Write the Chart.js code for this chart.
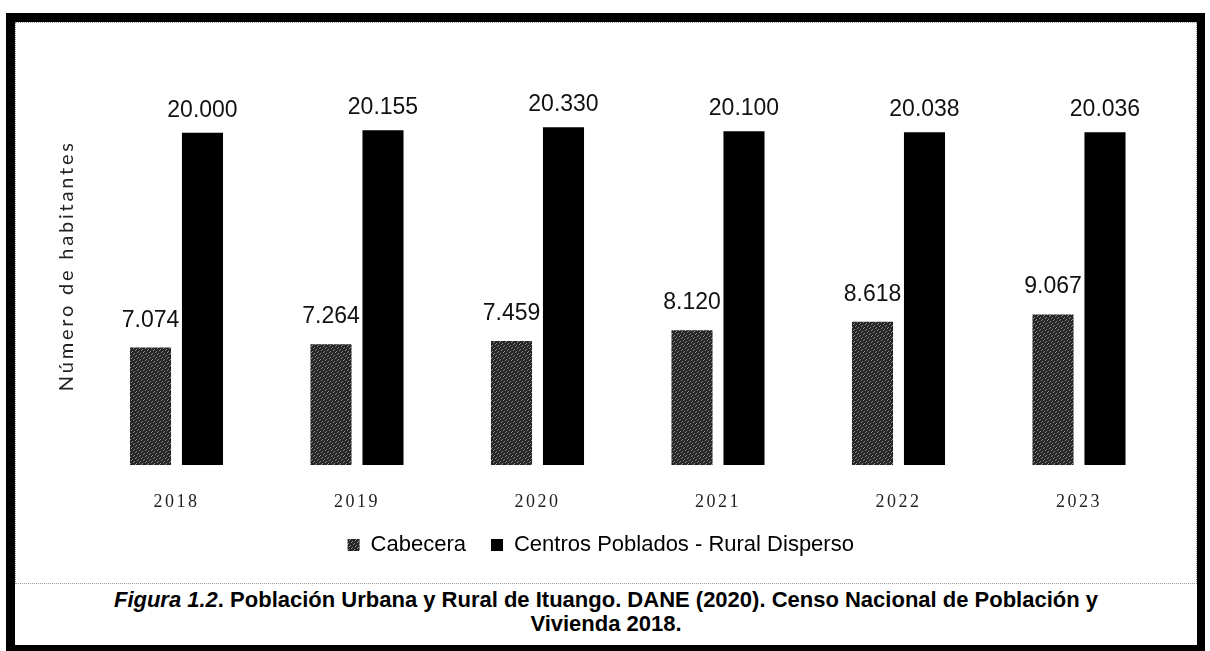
<!DOCTYPE html>
<html lang="es">
<head>
<meta charset="utf-8">
<title>Población Urbana y Rural de Ituango</title>
<script src="https://cdn.jsdelivr.net/npm/chart.js@4.4.1/dist/chart.umd.min.js"></script>
<style>
  html, body { margin: 0; padding: 0; background: #fff; }
  body { width: 1210px; height: 651px; position: relative; overflow: hidden; }
  .outer {
    position: absolute; left: 6px; top: 13px; width: 1199px; height: 641px;
    box-sizing: border-box; border: 9px solid #000; border-right-width: 8px;
  }
  .inner {
    position: absolute; left: 15px; top: 22px; width: 1182px; height: 562px;
    box-sizing: border-box; border: 1px dotted #9a9a9a;
  }
  #myChart { position: absolute; left: 16px; top: 22px; }
  .caption {
    position: absolute; left: 16px; top: 588px; width: 1180px;
    text-align: center; font-family: "Liberation Sans", Arial, sans-serif;
    font-weight: bold; font-size: 22px; line-height: 24px; color: #000;
  }
</style>
</head>
<body>
<div class="outer"></div>
<div class="inner"></div>
<canvas id="myChart" width="1179" height="561"></canvas>
<div class="caption"><i>Figura 1.2</i>. Población Urbana y Rural de Ituango. DANE (2020). Censo Nacional de Población y<br>Vivienda 2018.</div>

<script>
// Data
const years = ['2018', '2019', '2020', '2021', '2022', '2023'];
const cabecera = [7074, 7264, 7459, 8120, 8618, 9067];
const rural = [20000, 20155, 20330, 20100, 20038, 20036];
const seriesNames = ['Cabecera', 'Centros Poblados - Rural Disperso'];
const yTitle = 'Número de habitantes';

// Dithered dark gray fill like the scanned bars
function makeDither() {
  const c = document.createElement('canvas');
  c.width = 6;
  c.height = 6;
  const g = c.getContext('2d');
  g.fillStyle = '#262626';
  g.fillRect(0, 0, 6, 6);
  g.fillStyle = '#8c8c8c';
  [[1, 0], [4, 1], [0, 3], [3, 2], [5, 4], [2, 5]].forEach(p => g.fillRect(p[0], p[1], 1, 1));
  return g.createPattern(c, 'repeat');
}

// 7074 -> "7.074"
function fmt(v) {
  return String(v).replace(/\B(?=(\d{3})+(?!\d))/g, '.');
}

// Value labels above each bar
const labelOffsets = [21, 16];
const valueLabels = {
  id: 'valueLabels',
  afterDatasetsDraw(chart) {
    const ctx = chart.ctx;
    ctx.save();
    ctx.font = '23px "Liberation Sans", Arial, sans-serif';
    ctx.fillStyle = '#111';
    ctx.textAlign = 'center';
    ctx.textBaseline = 'alphabetic';
    chart.data.datasets.forEach((ds, di) => {
      chart.getDatasetMeta(di).data.forEach((bar, i) => {
        ctx.fillText(fmt(ds.data[i]), bar.x, bar.y - labelOffsets[di]);
      });
    });
    ctx.restore();
  }
};

// The scan has wide letter spacing on the axis text
function spaced(obj, name, sp) {
  if (obj['_sp_' + name]) return;
  const orig = obj[name];
  obj[name] = function () {
    const old = this.ctx.letterSpacing;
    this.ctx.letterSpacing = sp;
    orig.apply(this, arguments);
    this.ctx.letterSpacing = old || '0px';
  };
  obj['_sp_' + name] = true;
}
const axisSpacing = {
  id: 'axisSpacing',
  afterLayout(chart) {
    spaced(chart.scales.y, 'drawTitle', '2.8px');
    spaced(chart.scales.x, 'drawLabels', '2.5px');
  }
};

const ctx = document.getElementById('myChart').getContext('2d');
const myChart = new Chart(ctx, {
  type: 'bar',
  data: {
    labels: years,
    datasets: [{
      label: seriesNames[0],
      data: cabecera,
      backgroundColor: makeDither(),
      borderWidth: 0,
      categoryPercentage: 0.576,
      barPercentage: 0.79
    }, {
      label: seriesNames[1],
      data: rural,
      backgroundColor: '#000',
      borderWidth: 0,
      categoryPercentage: 0.576,
      barPercentage: 0.79
    }]
  },
  options: {
    responsive: false,
    animation: false,
    layout: {
      padding: { left: 16.25, right: 25.75, top: 44.4, bottom: 17 }
    },
    scales: {
      x: {
        grid: { display: false, drawTicks: false },
        border: { display: false },
        ticks: {
          padding: 26,
          color: '#222',
          font: { family: '"Liberation Serif", serif', size: 18 }
        },
        afterFit(s) { s.height = 44; }
      },
      y: {
        min: 0,
        max: 24000,
        grid: { display: false, drawTicks: false },
        border: { display: false },
        ticks: { display: false },
        title: {
          display: true,
          text: yTitle,
          color: '#222',
          font: { family: 'Lato, "Open Sans", sans-serif', size: 20 },
          padding: { top: 22, bottom: 0 }
        },
        afterFit(s) { s.width = 54; }
      }
    },
    plugins: {
      legend: {
        position: 'bottom',
        labels: {
          boxWidth: 12,
          boxHeight: 12,
          padding: 25,
          color: '#000',
          font: { family: '"Liberation Sans", Arial, sans-serif', size: 22 }
        }
      },
      tooltip: { enabled: false }
    }
  },
  plugins: [valueLabels, axisSpacing]
});
</script>
</body>
</html>
